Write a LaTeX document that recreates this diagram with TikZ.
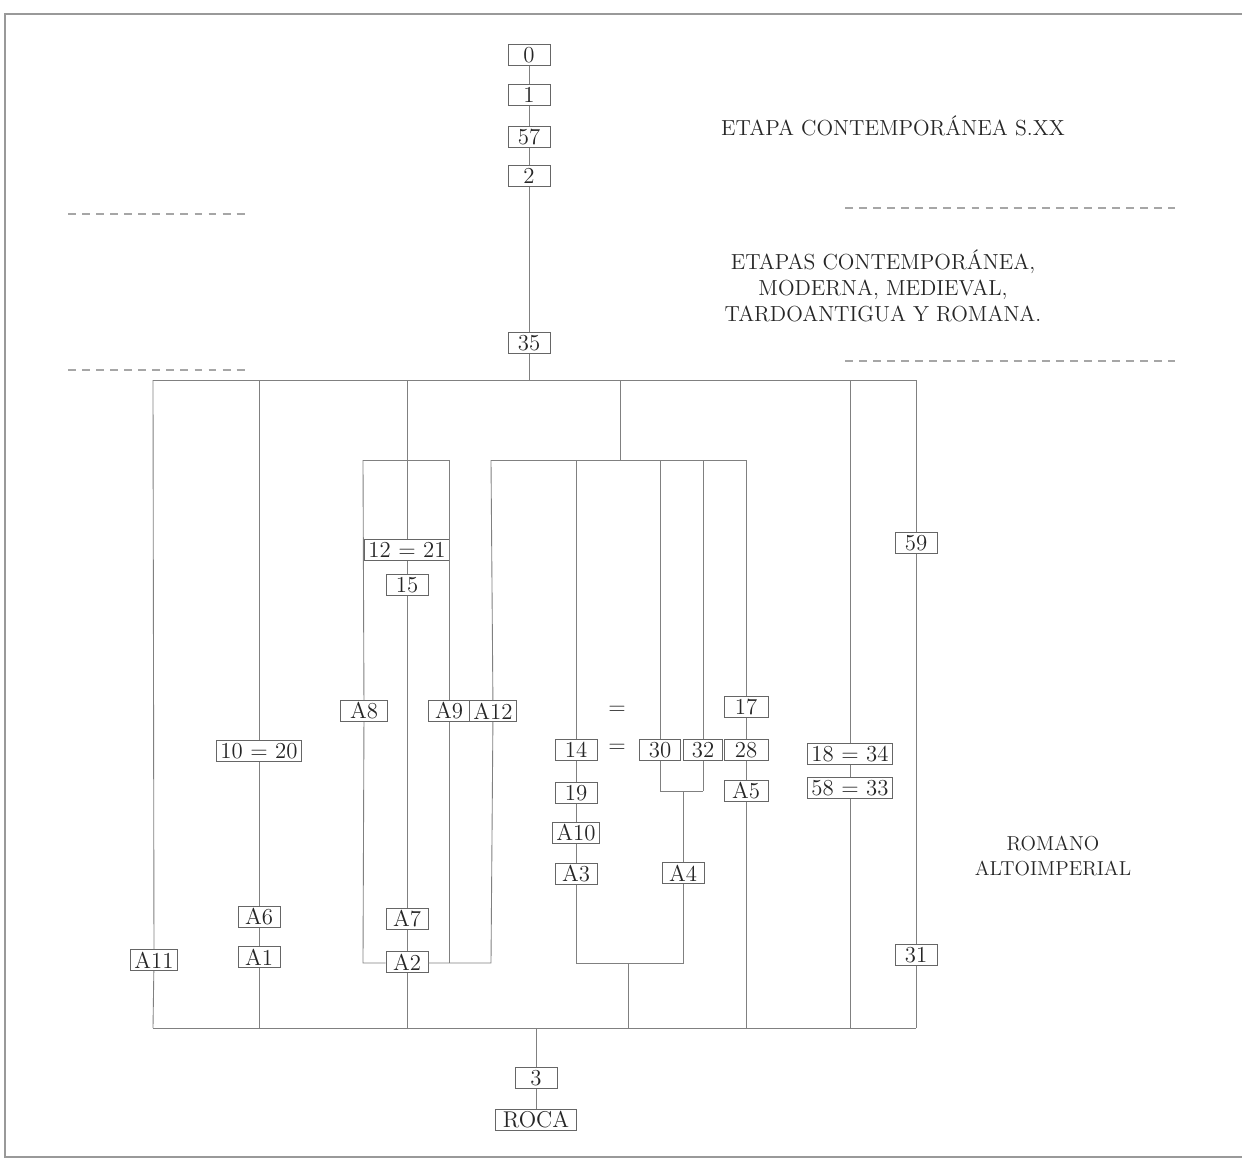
\documentclass[tikz,border=0pt]{standalone}
\usepackage{fontspec}
\begin{document}
\begin{tikzpicture}[x=0.02cm,y=-0.02cm,
  bx/.style={draw=black!60, line width=0.55pt, fill=white, inner xsep=2pt, inner ysep=0pt,
    minimum height=0.42cm, minimum width=0.84cm, font=\fontsize{13}{15}\selectfont, text=black!85},
  ln/.style={draw=black!50, line width=0.5pt},
  dsh/.style={draw=black!35, dash pattern=on 4.5pt off 3.5pt, line width=0.6pt},
  lbl/.style={font=\fontsize{11.5}{14.7}\selectfont\addfontfeature{LetterSpace=12}, align=center, text=black!85},
  lblb/.style={font=\fontsize{12.4}{14.7}\selectfont\addfontfeature{LetterSpace=12}, align=center, text=black!85},
  eqs/.style={font=\fontsize{13}{15}\selectfont, text=black!85, inner sep=0pt}]
\useasboundingbox (0,0) rectangle (1242,1160);
% frame
\draw[black!40, line width=0.8pt] (1242,14) -- (5,14) -- (5,1157) -- (1242,1157);
% dashed separators
\draw[dsh] (68,214) -- (250,214);
\draw[dsh] (68,370) -- (250,370);
\draw[dsh] (845,208) -- (1175,208);
\draw[dsh] (845,361) -- (1175,361);
% labels
\node[lblb] (h1) at (893,126) {ETAPA CONTEMPORÁNEA S.XX};
\node[lblb] (h2) at (883,286) {ETAPAS CONTEMPORÁNEA,\\MODERNA, MEDIEVAL,\\TARDOANTIGUA Y ROMANA.};
\node[lbl] (h3) at (1053,856) {ROMANO\\ALTOIMPERIAL};
% boxes
\node[bx] (b0) at (529,55) {0};
\node[bx] (b1) at (529,95) {1};
\node[bx] (b57) at (529,137) {57};
\node[bx] (b2) at (529,176) {2};
\node[bx] (b35) at (529,343) {35};
\node[bx, minimum width=1.52cm] (b1221) at (407,550) {12 = 21};
\node[bx] (b15) at (407,585) {15};
\node[bx, minimum width=0.94cm] (bA8) at (364,711) {A8};
\node[bx, minimum width=0.82cm] (bA9) at (449,711) {A9};
\node[bx] (bA12) at (493,711) {A12};
\node[bx] (bA7) at (407,919) {A7};
\node[bx] (bA2) at (407,962) {A2};
\node[bx, minimum width=1.7cm] (b1020) at (259,751) {10 = 20};
\node[bx] (bA6) at (259,917) {A6};
\node[bx] (bA1) at (259,957) {A1};
\node[bx] (bA11) at (154,960) {A11};
\node[bx] (b14) at (576,750) {14};
\node[bx] (b19) at (576,793) {19};
\node[bx] (bA10) at (576,833) {A10};
\node[bx] (bA3) at (576,874) {A3};
\node[bx, minimum width=0.82cm] (b30) at (660,750) {30};
\node[bx, minimum width=0.78cm] (b32) at (703,750) {32};
\node[bx] (bA4) at (683,873) {A4};
\node[bx, minimum width=0.88cm] (b17) at (746,707) {17};
\node[bx, minimum width=0.88cm] (b28) at (746,750) {28};
\node[bx, minimum width=0.88cm] (bA5) at (746,791) {A5};
\node[bx, minimum width=1.64cm] (b1834) at (850,754) {18 = 34};
\node[bx, minimum width=1.64cm] (b5833) at (850,788) {58 = 33};
\node[bx] (b59) at (916,543) {59};
\node[bx] (b31) at (916,955) {31};
\node[bx] (b3) at (536,1078) {3};
\node[bx, minimum width=1.62cm] (bROCA) at (536,1120) {ROCA};
\node[eqs] (eq1) at (617,710) {=};
\node[eqs] (eq2) at (617,748) {=};
% junction coordinates
\coordinate (t35) at (529,380);
\coordinate (tL) at (153,380);
\coordinate (tR) at (916,380);
\coordinate (t259) at (259,380);
\coordinate (t407) at (407,380);
\coordinate (t620) at (620,380);
\coordinate (t850) at (850,380);
\coordinate (bL) at (153,1028);
\coordinate (bR) at (916,1028);
\coordinate (q259) at (259,1028);
\coordinate (q407) at (407,1028);
\coordinate (q536) at (536,1028);
\coordinate (q628) at (628,1028);
\coordinate (q746) at (746,1028);
\coordinate (q850) at (850,1028);
\coordinate (k1L) at (363,460);
\coordinate (k1R) at (449,460);
\coordinate (k1C) at (407,460);
\coordinate (k1Lb) at (363,963);
\coordinate (k1Rb) at (449,963);
\coordinate (k2L) at (491,460);
\coordinate (k2R) at (746,460);
\coordinate (k2C) at (620,460);
\coordinate (k2Lb) at (491,963);
\coordinate (k576) at (576,460);
\coordinate (k660) at (660,460);
\coordinate (k703) at (703,460);
\coordinate (j660) at (660,791);
\coordinate (j703) at (703,791);
\coordinate (j683) at (683,791);
\coordinate (m576) at (576,963);
\coordinate (m683) at (683,963);
\coordinate (m628) at (628,963);
% connectors
\draw[ln] (b0) -- (b1) -- (b57) -- (b2) -- (b35) -- (t35);
\draw[ln] (tL) -- (tR);
\draw[ln] (bL) -- (bR);
\draw[ln] (tL) -- (bA11) -- (bL);
\draw[ln] (t259) -- (b1020) -- (bA6) -- (bA1) -- (q259);
\draw[ln] (t407) -- (b1221) -- (b15) -- (bA7) -- (bA2) -- (q407);
\draw[ln] (k1L) -- (k1R);
\draw[ln] (k1L) -- (bA8) -- (k1Lb) -- (bA2.west |- k1Lb);
\draw[ln] (k1R) -- (bA9) -- (k1Rb);
\draw[ln] (bA2.east |- k1Rb) -- (k2Lb) -- (bA12) -- (k2L);
\draw[ln] (t620) -- (k2C);
\draw[ln] (k2L) -- (k2R);
\draw[ln] (k576) -- (b14) -- (b19) -- (bA10) -- (bA3) -- (m576) -- (m683) -- (bA4) -- (j683);
\draw[ln] (j660) -- (j703);
\draw[ln] (k660) -- (b30) -- (j660);
\draw[ln] (k703) -- (b32) -- (j703);
\draw[ln] (m628) -- (q628);
\draw[ln] (k2R) -- (b17) -- (b28) -- (bA5) -- (q746);
\draw[ln] (t850) -- (b1834) -- (b5833) -- (q850);
\draw[ln] (tR) -- (b59) -- (b31) -- (bR);
\draw[ln] (q536) -- (b3) -- (bROCA);
\end{tikzpicture}
\end{document}
